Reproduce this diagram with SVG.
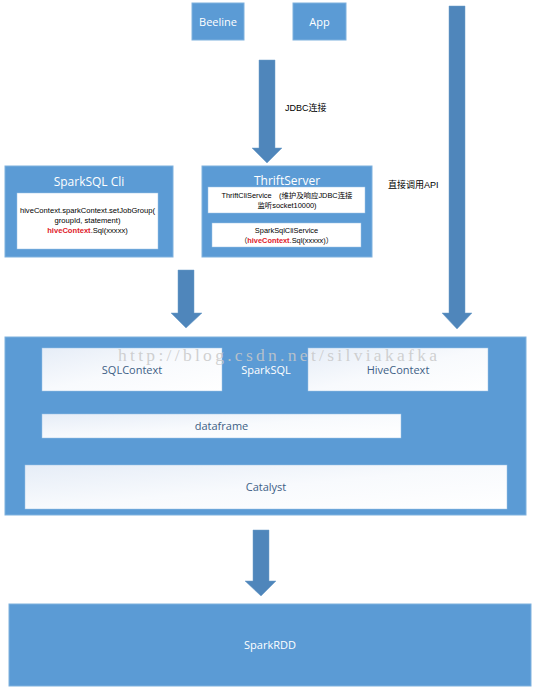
<svg xmlns="http://www.w3.org/2000/svg" width="535" height="690" viewBox="0 0 535 690">
<style>
.box{fill:#5B9BD5;stroke:#7FB1DE;stroke-width:1}
.inner{fill:url(#g);stroke:#9DC3E6;stroke-width:0.5}
.wbox{fill:#FFFFFF;stroke:#9DC3E6;stroke-width:0.5}
.arrow{fill:#4F86BB;stroke:#6F9FCB;stroke-width:0.5}
.t{font-family:"Open Sans","Liberation Sans",sans-serif;text-anchor:middle}
.w{fill:#FFFFFF}
.b{fill:#3E5F86}
.k{fill:#000000;font-family:"Liberation Sans","Noto Sans CJK SC",sans-serif}
.r{fill:#E0202A;font-weight:bold}
</style>
<defs>
<linearGradient id="g" x1="0" y1="0" x2="1" y2="1">
<stop offset="0" stop-color="#E6EDF7"/>
<stop offset="0.5" stop-color="#F8FAFD"/>
<stop offset="1" stop-color="#FFFFFF"/>
</linearGradient>
</defs>
<g id="connectors">
<path class="arrow" d="M259,60 H275 V148 H282 L267,163 L252,148 H259 Z"/>
<path class="arrow" d="M449,6 H465 V313 H472 L457,329 L442,313 H449 Z"/>
<path class="arrow" d="M178,270 H194 V313 H202 L186,328 L171,313 H178 Z"/>
<path class="arrow" d="M253,530 H269 V581 H276 L261,596 L245,581 H253 Z"/>
<text class="k" x="285" y="111" font-size="9">JDBC连接</text>
<text class="k" x="388" y="188" font-size="9">直接调用API</text>
</g>
<g id="beeline">
<rect class="box" x="192" y="3" width="52" height="37"/>
<text class="t w" x="218" y="26" font-size="11">Beeline</text>
</g>
<g id="app">
<rect class="box" x="293" y="3" width="53" height="37"/>
<text class="t w" x="319.5" y="26" font-size="11">App</text>
</g>
<g id="sparksql-cli">
<rect class="box" x="5" y="166" width="168" height="91"/>
<text class="t w" x="89" y="186" font-size="12">SparkSQL Cli</text>
<rect class="wbox" x="17" y="193" width="141" height="56"/>
<text class="t k" x="87.5" y="213" font-size="7.6">hiveContext.sparkContext.setJobGroup(</text>
<text class="t k" x="87.5" y="223" font-size="7.6">groupId, statement)</text>
<text class="t k" x="87.5" y="233" font-size="7.6"><tspan class="r">hiveContext</tspan>.Sql(xxxxx)</text>
</g>
<g id="thriftserver">
<rect class="box" x="202" y="166" width="170" height="91"/>
<text class="t w" x="287" y="185" font-size="12">ThriftServer</text>
<rect class="wbox" x="208" y="187" width="157" height="26"/>
<text class="t k" x="287" y="198" font-size="7.4">ThriftCliService　(维护及响应JDBC连接</text>
<text class="t k" x="287" y="208" font-size="7.4">监听socket10000)</text>
<rect class="wbox" x="212" y="223" width="149" height="24"/>
<text class="t k" x="286.5" y="233" font-size="7.4">SparkSqlCliService</text>
<text class="t k" x="286.5" y="243" font-size="7.4">（<tspan class="r">hiveContext</tspan>.Sql(xxxxx)）</text>
</g>
<g id="sparksql">
<rect class="box" x="5" y="337" width="521" height="178"/>
<text class="t w" x="266" y="374" font-size="11">SparkSQL</text>
</g>
<g id="sqlcontext">
<rect class="inner" x="42" y="348" width="180" height="43"/>
<text class="t b" x="132" y="374" font-size="11">SQLContext</text>
</g>
<g id="hivecontext">
<rect class="inner" x="308" y="348" width="180" height="43"/>
<text class="t b" x="398" y="374" font-size="11">HiveContext</text>
</g>
<g id="dataframe">
<rect class="inner" x="42" y="414" width="359" height="24"/>
<text class="t b" x="221.5" y="430" font-size="11">dataframe</text>
</g>
<g id="catalyst">
<rect class="inner" x="25" y="465" width="482" height="44"/>
<text class="t b" x="266" y="491" font-size="11">Catalyst</text>
</g>
<g id="sparkrdd">
<rect class="box" x="9" y="604" width="522" height="82"/>
<text class="t w" x="270" y="649" font-size="11">SparkRDD</text>
</g>
<text x="118" y="361" font-family="Liberation Serif,serif" font-size="17.5" fill="#C8C8C8" fill-opacity="0.85" textLength="319" lengthAdjust="spacing">http://blog.csdn.net/silviakafka</text>
</svg>
